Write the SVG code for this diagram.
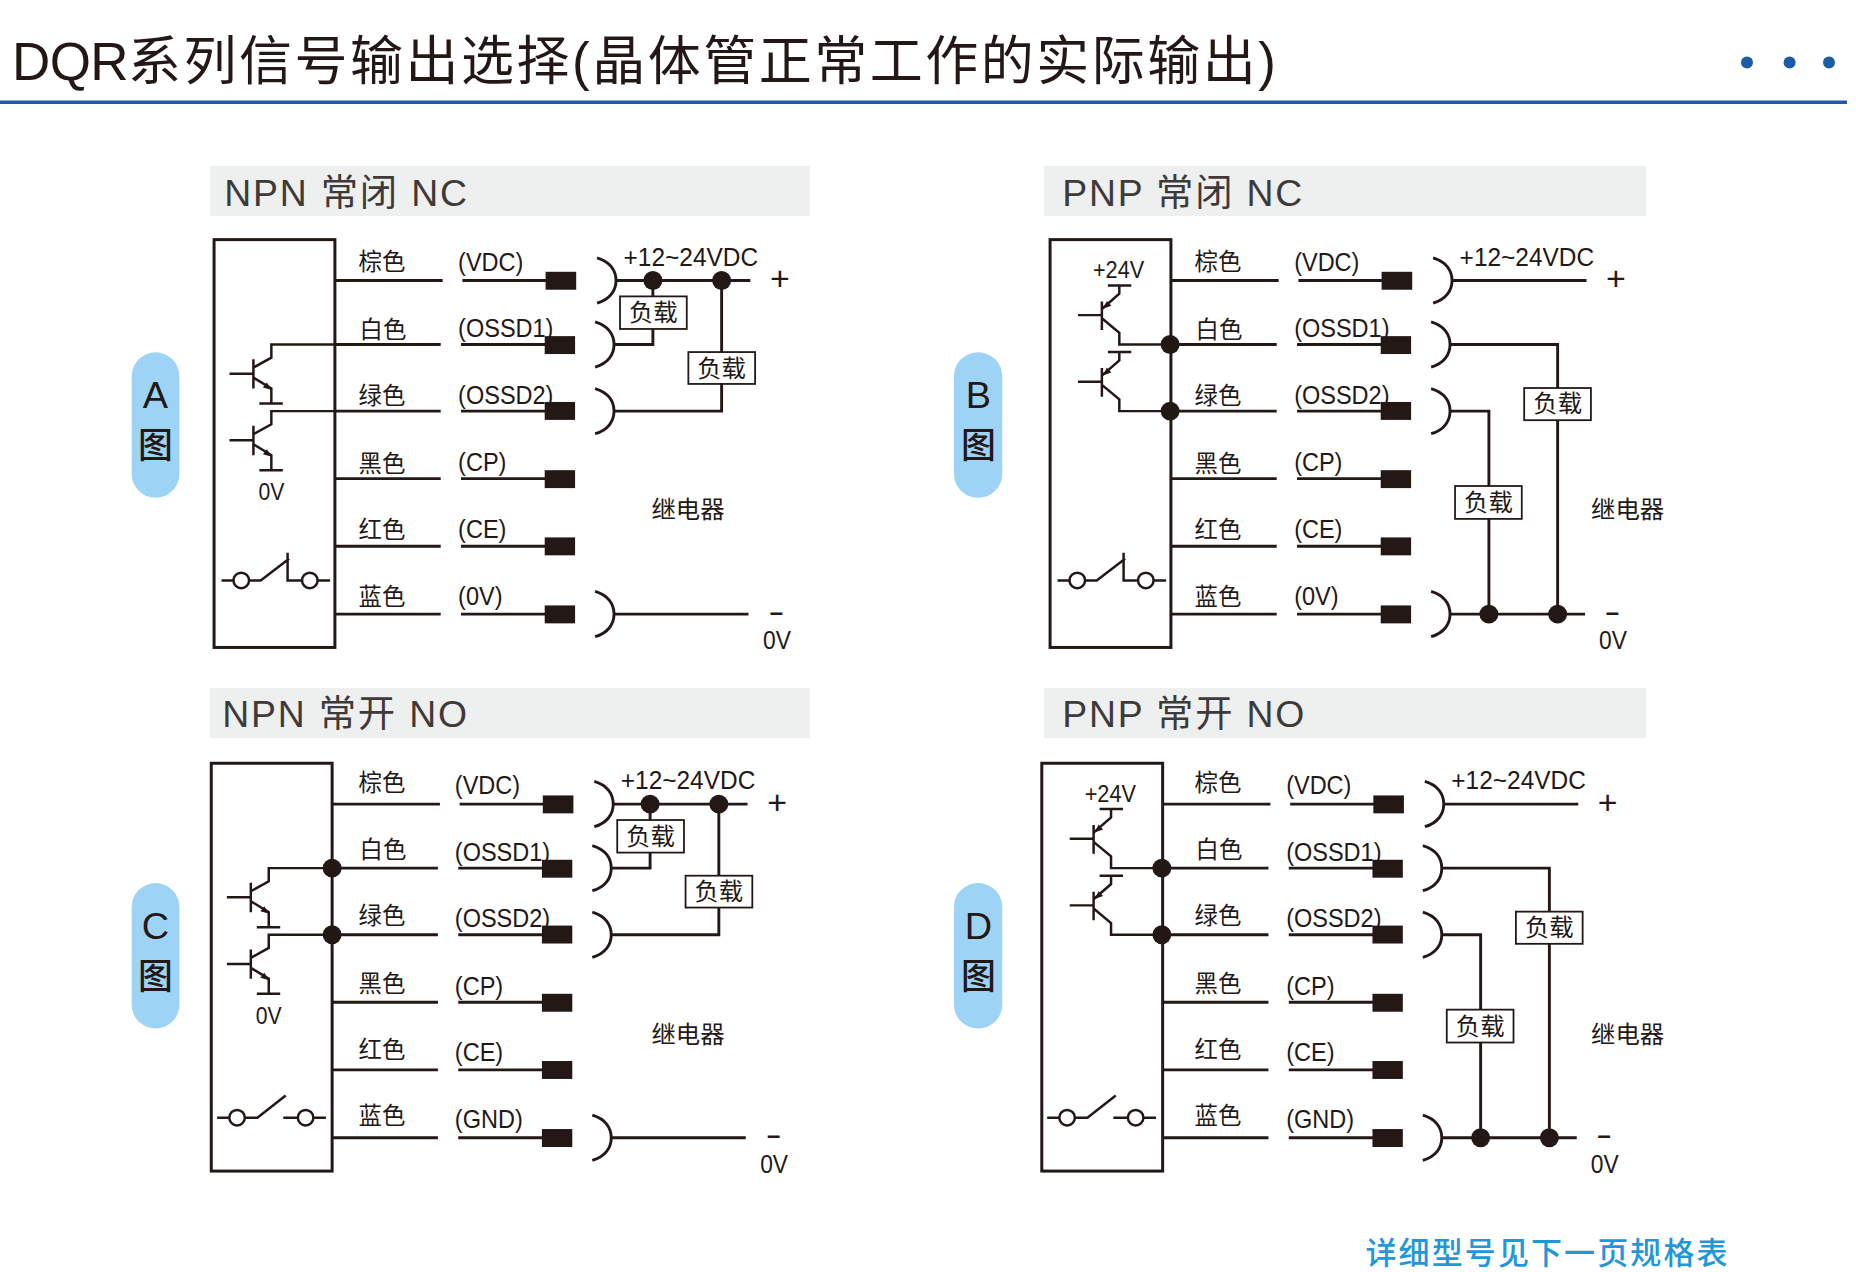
<svg xmlns="http://www.w3.org/2000/svg" xmlns:xlink="http://www.w3.org/1999/xlink" width="1856" height="1272" viewBox="0 0 1856 1272">
<style>
text{font-family:"Liberation Sans","Noto Sans CJK SC",sans-serif;fill:#231815}
.w{fill:none;stroke:#231815;stroke-width:2.9}
.t{fill:none;stroke:#231815;stroke-width:2.5}
.blk{fill:#231815}
.dot{fill:#231815}
.hdr{fill:#eef0f0}
.pill{fill:#9dd4f5}
.ht{font-size:37.5px;letter-spacing:1.8px;fill:#3e3a39}
.cn{font-size:23.5px}
.rel{font-size:24.5px}
.pn{font-size:25.5px}
.sup{font-size:26px}
.lb{fill:#fff;stroke:#231815;stroke-width:1.8}
.lt{font-size:24.5px;text-anchor:middle}
.tag{font-size:38px;text-anchor:middle}
.tagc{font-size:35px;text-anchor:middle;font-weight:500}
.plus{font-size:34px;text-anchor:middle}
.minus{font-size:24px;text-anchor:middle;font-weight:bold}
.zv{font-size:26.5px}
</style>
<defs>
<path id="arc" class="w" d="M-19 -22.7C-6 -19 0 -10 0 0C0 10 -6 19 -19 22.7"/>
<g id="rows">
<path class="w" d="M335.8 281H444M463.8 281H548M335.8 345.3H442M462.4 345.3H547M335.8 412.2H442M462.4 412.2H547M335.8 480H442M462.4 480H547M335.8 547.9H442M462.4 547.9H547M335.8 616H442M462.4 616H547"/>
<use href="#arc" transform="translate(618 281)"/>
<use href="#arc" transform="translate(616 345.3)"/>
<use href="#arc" transform="translate(616 412.2)"/>
<use href="#arc" transform="translate(616 616)"/>
</g>
<g id="blocks">
<rect class="blk" x="547.3" y="272.3" width="30.7" height="18"/>
<rect class="blk" x="546.4" y="336.9" width="30.5" height="18"/>
<rect class="blk" x="546.4" y="403" width="30.5" height="18"/>
<rect class="blk" x="546.4" y="471.5" width="30.5" height="18"/>
<rect class="blk" x="546.4" y="539" width="30.5" height="18"/>
<rect class="blk" x="546.4" y="607.3" width="30.5" height="18"/>
</g>
<g id="npn">
<path class="t" d="M230 374.6H254M254 360V389.5M254 368.5L272 358.5V345.3H335M254 378.5L272 389.5V404.6M260 404.6H283.5"/>
<polygon class="blk" points="272.5,391 263.5,388.5 267.5,383.5"/>
</g>
<g id="pnp">
<path class="t" d="M242.5 315.8H266.5M266.5 302V330.8M272.5 286H296M284 286V294.4L266.5 309.7M266.5 318.9L284 333.5V345.3H335"/>
<polygon class="blk" points="267.5,309.5 271.5,301.5 276,306.5"/>
</g>
<g id="sw-nc">
<circle class="t" cx="241.8" cy="582.2" r="7.8" />
<circle class="t" cx="310.6" cy="582.2" r="7.8"/>
<path class="t" d="M222 582.2H234M249.6 582.2H261.3L289.8 560.5M288.3 554.3V582.2H302.8M318.4 582.2H331"/>
</g>
<g id="sw-no">
<circle class="t" cx="237.6" cy="1119.5" r="7.8"/>
<circle class="t" cx="306.4" cy="1119.5" r="7.8"/>
<path class="t" d="M217.6 1119.5H229.8M245.4 1119.5H258L286.4 1097.3M284 1119.5H298.6M314.2 1119.5H326.8"/>
</g>
</defs>
<rect width="1856" height="1272" fill="#fff"/>
<g id="title">
<text x="12" y="80" style="font-size:53px;letter-spacing:2.5px"><tspan style="letter-spacing:-0.6px">DQR</tspan>系列信号输出选择(晶体管正常工作的实际输出)</text>
<rect x="0" y="100.5" width="1847" height="3.5" fill="#2259a4"/>
<circle cx="1747" cy="62.5" r="6" fill="#1f5aa6"/>
<circle cx="1789.6" cy="62.5" r="6" fill="#1f5aa6"/>
<circle cx="1829" cy="62.5" r="6" fill="#1f5aa6"/>
</g>
<g id="connectors">
<g id="conn-a" transform="matrix(.9962 0 0 .9959 .38 .615)">
<use href="#rows"/>
<path class="w" d="M618 281H752.8M655 281V297M655 329.7V345.3H616M724 281V353M724 385V412.2H616M616 616H751"/>
<circle class="dot" cx="655" cy="281" r="9.5"/><circle class="dot" cx="724" cy="281" r="9.5"/>
</g>
<g id="conn-b" transform="matrix(.9962 0 0 .9959 3.57 .615) translate(836 0)">
<use href="#rows"/>
<path class="w" d="M618 281H753M616 345.3H724V616M616 412.2H655V616M616 616H751.5"/>
<circle class="dot" cx="655" cy="616" r="9.5"/><circle class="dot" cx="724" cy="616" r="9.5"/>
<circle class="dot" cx="335" cy="345.3" r="9.5"/><circle class="dot" cx="335" cy="412.2" r="9.5"/>
</g>
<g id="conn-c" transform="matrix(.9962 0 0 .9959 .38 2.79) translate(-2.8 523.6)">
<use href="#rows"/>
<path class="w" d="M618 281H752.8M655 281V297M655 329.7V345.3H616M724 281V353M724 385V412.2H616M616 616H751"/>
<circle class="dot" cx="655" cy="281" r="9.5"/><circle class="dot" cx="724" cy="281" r="9.5"/>
<circle class="dot" cx="335.8" cy="345.3" r="9.5"/><circle class="dot" cx="335.8" cy="412.2" r="9.5"/>
</g>
<g id="conn-d" transform="matrix(.9962 0 0 .9959 3.57 2.79) translate(827.7 523.6)">
<use href="#rows"/>
<path class="w" d="M618 281H753M616 345.3H724V616M616 412.2H655V616M616 616H751.5"/>
<circle class="dot" cx="655" cy="616" r="9.5"/><circle class="dot" cx="724" cy="616" r="9.5"/>
<circle class="dot" cx="335" cy="345.3" r="9.5"/><circle class="dot" cx="335" cy="412.2" r="9.5"/>
</g>
</g>

<g id="panel-a" transform="matrix(.9962 0 0 .9959 .38 .615)">
<g id="a-header"><rect class="hdr" x="210.5" y="166" width="602" height="50.3"/><text class="ht" x="224.8" y="206">NPN 常闭 NC</text></g>
<g id="a-tag"><rect class="pill" x="131.8" y="353.2" width="47.9" height="146.1" rx="24"/><text class="tag" x="155.7" y="409">A</text><text class="tagc" x="155.7" y="459.5">图</text></g>
<g id="a-sensor">
<rect x="214.5" y="240" width="121.3" height="409.5" fill="none" stroke="#231815" stroke-width="3"/>
<use href="#npn"/><use href="#npn" transform="translate(0 66.9)"/>
<text x="259" y="501.7" font-size="23.7" textLength="26" lengthAdjust="spacingAndGlyphs">0V</text>
<use href="#sw-nc"/>
</g>
<g id="a-labels">
<text class="cn" x="359.5" y="271">棕色</text><text class="cn" x="360.5" y="338.5">白色</text><text class="cn" x="359.5" y="405.5">绿色</text><text class="cn" x="359.5" y="473">黑色</text><text class="cn" x="359.5" y="539.5">红色</text><text class="cn" x="359.5" y="606.5">蓝色</text>
<text class="pn" x="459.5" y="271.5" textLength="65.5" lengthAdjust="spacingAndGlyphs">(VDC)</text><text class="pn" x="459.5" y="338" textLength="95.7" lengthAdjust="spacingAndGlyphs">(OSSD1)</text><text class="pn" x="459.5" y="405" textLength="95.7" lengthAdjust="spacingAndGlyphs">(OSSD2)</text><text class="pn" x="459.5" y="472.5" textLength="48.5" lengthAdjust="spacingAndGlyphs">(CP)</text><text class="pn" x="459.5" y="539.5" textLength="48.5" lengthAdjust="spacingAndGlyphs">(CE)</text><text class="pn" x="459.5" y="607" textLength="44.6" lengthAdjust="spacingAndGlyphs">(0V)</text>
</g>
<g id="a-terminals"><use href="#blocks"/></g>
<g id="a-load-1"><rect class="lb" x="622" y="297" width="67" height="32.7"/><text class="lt" x="655.5" y="322">负载</text></g>
<g id="a-load-2"><rect class="lb" x="690.6" y="352.9" width="67" height="32"/><text class="lt" x="724" y="377.5">负载</text></g>
<g id="a-supply"><text class="sup" x="625.6" y="266" textLength="135" lengthAdjust="spacingAndGlyphs">+12~24VDC</text><text class="plus" x="782.5" y="291">+</text><text class="minus" x="779" y="621.5">–</text><text class="zv" x="765.5" y="651" textLength="28" lengthAdjust="spacingAndGlyphs">0V</text></g>
<g id="a-relay"><text class="rel" x="653.5" y="520">继电器</text></g>
</g>

<g id="panel-b" transform="matrix(.9962 0 0 .9959 3.57 .615)">
<g id="b-header"><rect class="hdr" x="1044.5" y="166" width="604.5" height="50.3"/><text class="ht" x="1062.8" y="206">PNP 常闭 NC</text></g>
<g id="b-tag"><rect class="pill" x="954" y="353.2" width="48.5" height="146.1" rx="24"/><text class="tag" x="978.5" y="409">B</text><text class="tagc" x="978.5" y="459.5">图</text></g>
<g id="b-sensor" transform="translate(836 0)">
<rect x="214.5" y="240" width="121.3" height="409.5" fill="none" stroke="#231815" stroke-width="3"/>
<use href="#pnp"/><use href="#pnp" transform="translate(0 66.9)"/>
<text x="257.5" y="279" font-size="23.5" textLength="51.5" lengthAdjust="spacingAndGlyphs">+24V</text>
<use href="#sw-nc"/>
</g>
<g id="b-labels" transform="translate(836 0)">
<text class="cn" x="359.5" y="271">棕色</text><text class="cn" x="360.5" y="338.5">白色</text><text class="cn" x="359.5" y="405.5">绿色</text><text class="cn" x="359.5" y="473">黑色</text><text class="cn" x="359.5" y="539.5">红色</text><text class="cn" x="359.5" y="606.5">蓝色</text>
<text class="pn" x="459.5" y="271.5" textLength="65.5" lengthAdjust="spacingAndGlyphs">(VDC)</text><text class="pn" x="459.5" y="338" textLength="95.7" lengthAdjust="spacingAndGlyphs">(OSSD1)</text><text class="pn" x="459.5" y="405" textLength="95.7" lengthAdjust="spacingAndGlyphs">(OSSD2)</text><text class="pn" x="459.5" y="472.5" textLength="48.5" lengthAdjust="spacingAndGlyphs">(CP)</text><text class="pn" x="459.5" y="539.5" textLength="48.5" lengthAdjust="spacingAndGlyphs">(CE)</text><text class="pn" x="459.5" y="607" textLength="44.6" lengthAdjust="spacingAndGlyphs">(0V)</text>
</g>
<g id="b-terminals" transform="translate(836 0)"><use href="#blocks"/></g>
<g id="b-load-1" transform="translate(836 0)"><rect class="lb" x="690.4" y="389" width="67" height="32.3"/><text class="lt" x="724" y="413.5">负载</text></g>
<g id="b-load-2" transform="translate(836 0)"><rect class="lb" x="621" y="487.4" width="67" height="33"/><text class="lt" x="654.5" y="512.5">负载</text></g>
<g id="b-supply" transform="translate(836 0)"><text class="sup" x="625.6" y="266" textLength="135" lengthAdjust="spacingAndGlyphs">+12~24VDC</text><text class="plus" x="782.5" y="291">+</text><text class="minus" x="779" y="621.5">–</text><text class="zv" x="765.5" y="651" textLength="28" lengthAdjust="spacingAndGlyphs">0V</text></g>
<g id="b-relay"><text class="rel" x="1593.5" y="520">继电器</text></g>
</g>

<g id="panel-c" transform="matrix(.9962 0 0 .9959 .38 2.79)">
<g id="c-header"><rect class="hdr" x="210" y="688" width="602.5" height="50.4"/><text class="ht" x="222.8" y="727.6">NPN 常开 NO</text></g>
<g id="c-tag"><rect class="pill" x="131.8" y="883.9" width="47.9" height="146.1" rx="24"/><text class="tag" x="155.7" y="940">C</text><text class="tagc" x="155.7" y="990.5">图</text></g>
<g id="c-sensor">
<rect x="211.7" y="763.6" width="121.3" height="409.5" fill="none" stroke="#231815" stroke-width="3"/>
<g transform="translate(-2.6 523.6)"><use href="#npn"/><use href="#npn" transform="translate(0 66.9)"/></g>
<text x="256.4" y="1025.3" font-size="23.7" textLength="26" lengthAdjust="spacingAndGlyphs">0V</text>
<use href="#sw-no"/>
</g>
<g id="c-labels">
<g transform="translate(0 520)"><text class="cn" x="359.5" y="271">棕色</text><text class="cn" x="360.5" y="338.5">白色</text><text class="cn" x="359.5" y="405.5">绿色</text><text class="cn" x="359.5" y="473">黑色</text><text class="cn" x="359.5" y="539.5">红色</text><text class="cn" x="359.5" y="606">蓝色</text></g>
<g transform="translate(-3.3 523.4)"><text class="pn" x="459.5" y="271.5" textLength="65.5" lengthAdjust="spacingAndGlyphs">(VDC)</text><text class="pn" x="459.5" y="338" textLength="95.7" lengthAdjust="spacingAndGlyphs">(OSSD1)</text><text class="pn" x="459.5" y="405" textLength="95.7" lengthAdjust="spacingAndGlyphs">(OSSD2)</text><text class="pn" x="459.5" y="472.5" textLength="48.5" lengthAdjust="spacingAndGlyphs">(CP)</text><text class="pn" x="459.5" y="539.5" textLength="48.5" lengthAdjust="spacingAndGlyphs">(CE)</text><text class="pn" x="459.5" y="606.5" textLength="68.2" lengthAdjust="spacingAndGlyphs">(GND)</text></g>
</g>
<g id="c-terminals" transform="translate(-2.8 523.6)"><use href="#blocks"/></g>
<g id="c-load-1" transform="translate(-2.8 523.6)"><rect class="lb" x="622" y="297" width="67" height="32.7"/><text class="lt" x="655.5" y="322">负载</text></g>
<g id="c-load-2" transform="translate(-2.8 523.6)"><rect class="lb" x="690.6" y="352.9" width="67" height="32"/><text class="lt" x="724" y="377.5">负载</text></g>
<g id="c-supply" transform="translate(-2.8 523.6)"><text class="sup" x="625.6" y="266" textLength="135" lengthAdjust="spacingAndGlyphs">+12~24VDC</text><text class="plus" x="782.5" y="291">+</text><text class="minus" x="779" y="621.5">–</text><text class="zv" x="765.5" y="651" textLength="28" lengthAdjust="spacingAndGlyphs">0V</text></g>
<g id="c-relay"><text class="rel" x="653.5" y="1044">继电器</text></g>
</g>

<g id="panel-d" transform="matrix(.9962 0 0 .9959 3.57 2.79)">
<g id="d-header"><rect class="hdr" x="1044.5" y="688" width="604.5" height="50.4"/><text class="ht" x="1062.8" y="727.6">PNP 常开 NO</text></g>
<g id="d-tag"><rect class="pill" x="954" y="883.9" width="48.5" height="146.1" rx="24"/><text class="tag" x="978.5" y="940">D</text><text class="tagc" x="978.5" y="990.5">图</text></g>
<g id="d-sensor" transform="translate(827.7 523.6)">
<rect x="214.5" y="240" width="121.3" height="409.5" fill="none" stroke="#231815" stroke-width="3"/>
<use href="#pnp"/><use href="#pnp" transform="translate(0 66.9)"/>
<text x="257.5" y="279" font-size="23.5" textLength="51.5" lengthAdjust="spacingAndGlyphs">+24V</text>
</g>
<use href="#sw-no" transform="translate(830 0)"/>
<g id="d-labels">
<g transform="translate(836 520)"><text class="cn" x="359.5" y="271">棕色</text><text class="cn" x="360.5" y="338.5">白色</text><text class="cn" x="359.5" y="405.5">绿色</text><text class="cn" x="359.5" y="473">黑色</text><text class="cn" x="359.5" y="539.5">红色</text><text class="cn" x="359.5" y="606">蓝色</text></g>
<g transform="translate(828 523.4)"><text class="pn" x="459.5" y="271.5" textLength="65.5" lengthAdjust="spacingAndGlyphs">(VDC)</text><text class="pn" x="459.5" y="338" textLength="95.7" lengthAdjust="spacingAndGlyphs">(OSSD1)</text><text class="pn" x="459.5" y="405" textLength="95.7" lengthAdjust="spacingAndGlyphs">(OSSD2)</text><text class="pn" x="459.5" y="472.5" textLength="48.5" lengthAdjust="spacingAndGlyphs">(CP)</text><text class="pn" x="459.5" y="539.5" textLength="48.5" lengthAdjust="spacingAndGlyphs">(CE)</text><text class="pn" x="459.5" y="606.5" textLength="68.2" lengthAdjust="spacingAndGlyphs">(GND)</text></g>
</g>
<g id="d-terminals" transform="translate(827.7 523.6)"><use href="#blocks"/></g>
<g id="d-load-1" transform="translate(827.7 523.6)"><rect class="lb" x="690.4" y="389" width="67" height="32.3"/><text class="lt" x="724" y="413.5">负载</text></g>
<g id="d-load-2" transform="translate(827.7 523.6)"><rect class="lb" x="621" y="487.4" width="67" height="33"/><text class="lt" x="654.5" y="512.5">负载</text></g>
<g id="d-supply" transform="translate(827.7 523.6)"><text class="sup" x="625.6" y="266" textLength="135" lengthAdjust="spacingAndGlyphs">+12~24VDC</text><text class="plus" x="782.5" y="291">+</text><text class="minus" x="779" y="621.5">–</text><text class="zv" x="765.5" y="651" textLength="28" lengthAdjust="spacingAndGlyphs">0V</text></g>
<g id="d-relay"><text class="rel" x="1593.5" y="1044">继电器</text></g>
</g>
<g id="footer"><text x="1365.5" y="1264" style="font-size:31px;letter-spacing:2.1px;font-weight:500;fill:#1f97d8">详细型号见下一页规格表</text></g>
</svg>
